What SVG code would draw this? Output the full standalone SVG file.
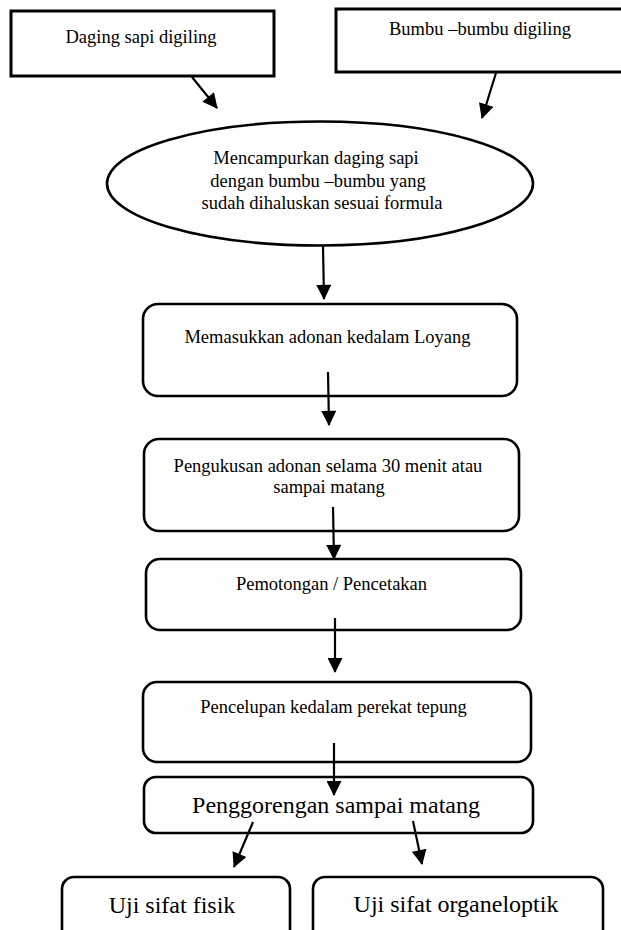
<svg xmlns="http://www.w3.org/2000/svg" width="621" height="930" viewBox="0 0 621 930">
<style>
.box{fill:#fff;stroke:#000;stroke-width:3}
.rbox{fill:#fff;stroke:#000;stroke-width:2.6}
.t{font-family:"Liberation Serif","Times New Roman",serif;font-size:18.5px;fill:#000;text-anchor:middle}
.tl{font-family:"Liberation Serif","Times New Roman",serif;font-size:24px;fill:#000;text-anchor:middle}
.arr{stroke:#000;stroke-width:2.2;fill:none;marker-end:url(#ah)}
</style>
<defs>
<marker id="ah" viewBox="0 0 16 16" refX="15" refY="8" markerWidth="16" markerHeight="15" orient="auto" markerUnits="userSpaceOnUse">
<path d="M0,0 L16,8 L0,16 z" fill="#000"/>
</marker>
</defs>
<rect width="621" height="930" fill="#fff"/>
<g id="n-daging">
<rect class="box" x="11" y="11" width="263" height="65"/>
<text class="t" x="141" y="43">Daging sapi digiling</text>
</g>
<g id="n-bumbu">
<rect class="box" x="336" y="9" width="290" height="63"/>
<text class="t" x="480" y="35">Bumbu –bumbu digiling</text>
</g>
<g id="n-campur">
<ellipse class="rbox" cx="320" cy="183.5" rx="213" ry="62"/>
<text class="t" x="316" y="164">Mencampurkan daging sapi</text>
<text class="t" x="318" y="186.5">dengan bumbu –bumbu yang</text>
<text class="t" x="322" y="209">sudah dihaluskan sesuai formula</text>
</g>
<g id="n-loyang">
<rect class="rbox" x="143" y="304" width="374" height="92" rx="15"/>
<text class="t" x="327.5" y="343">Memasukkan adonan kedalam Loyang</text>
</g>
<g id="n-kukus">
<rect class="rbox" x="144" y="439" width="375" height="92" rx="15"/>
<text class="t" x="328" y="472">Pengukusan adonan selama 30 menit atau</text>
<text class="t" x="329" y="493">sampai matang</text>
</g>
<g id="n-potong">
<rect class="rbox" x="146" y="559" width="375" height="71" rx="14"/>
<text class="t" x="331.5" y="590">Pemotongan / Pencetakan</text>
</g>
<g id="n-celup">
<rect class="rbox" x="143" y="682" width="388" height="80" rx="14"/>
<text class="t" x="333.5" y="713">Pencelupan kedalam perekat tepung</text>
</g>
<g id="n-goreng">
<rect class="rbox" x="144" y="777" width="389" height="56" rx="12"/>
<text class="tl" x="336" y="813">Penggorengan sampai matang</text>
</g>
<g id="n-fisik">
<rect class="rbox" x="62" y="877" width="228" height="70" rx="12"/>
<text class="tl" x="172" y="913">Uji sifat fisik</text>
</g>
<g id="n-organo">
<rect class="rbox" x="313" y="877" width="290" height="70" rx="12"/>
<text class="tl" x="456" y="912">Uji sifat organeloptik</text>
</g>
<g id="connectors">
<line class="arr" x1="192" y1="77" x2="217" y2="108"/>
<line class="arr" x1="496" y1="73" x2="482" y2="118"/>
<line class="arr" x1="323" y1="246" x2="324" y2="299"/>
<line class="arr" x1="328" y1="372" x2="329" y2="425"/>
<line class="arr" x1="333" y1="507" x2="334" y2="559"/>
<line class="arr" x1="335" y1="618" x2="335" y2="672"/>
<line class="arr" x1="334" y1="743" x2="334" y2="795"/>
<line class="arr" x1="253" y1="822" x2="234" y2="867"/>
<line class="arr" x1="413" y1="821" x2="422" y2="864"/>
</g>
</svg>
